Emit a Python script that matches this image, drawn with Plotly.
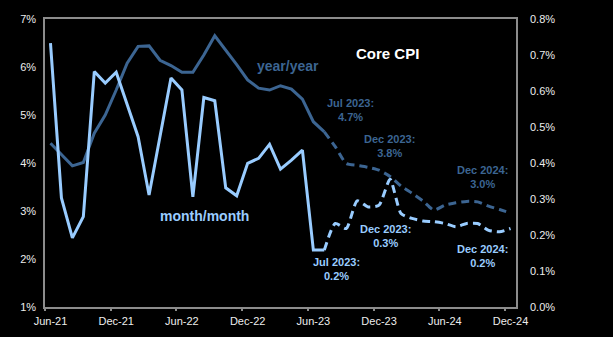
import plotly.graph_objects as go

# Monthly axis, Jun-21 through Dec-24
months = [
    "Jun-21", "Jul-21", "Aug-21", "Sep-21", "Oct-21", "Nov-21", "Dec-21",
    "Jan-22", "Feb-22", "Mar-22", "Apr-22", "May-22", "Jun-22", "Jul-22",
    "Aug-22", "Sep-22", "Oct-22", "Nov-22", "Dec-22", "Jan-23", "Feb-23",
    "Mar-23", "Apr-23", "May-23", "Jun-23", "Jul-23", "Aug-23", "Sep-23",
    "Oct-23", "Nov-23", "Dec-23", "Jan-24", "Feb-24", "Mar-24", "Apr-24",
    "May-24", "Jun-24", "Jul-24", "Aug-24", "Sep-24", "Oct-24", "Nov-24",
    "Dec-24",
]

# Core CPI, year/year (%), left axis
core_yoy = [
    4.41, 4.18, 3.94, 4.01, 4.62, 5.00, 5.52, 6.08, 6.43, 6.44, 6.14, 6.03,
    5.89, 5.89, 6.25, 6.65, 6.36, 6.05, 5.73, 5.56, 5.52, 5.61, 5.54, 5.33,
    4.86, 4.65, 4.34, 3.99, 3.95, 3.91, 3.85, 3.72, 3.52, 3.37, 3.21, 3.02,
    3.12, 3.17, 3.20, 3.19, 3.10, 3.03, 2.96,
]

# Core CPI, month/month (%), right axis
core_mom = [
    0.733, 0.303, 0.192, 0.251, 0.654, 0.622, 0.652, 0.563, 0.473, 0.311,
    0.473, 0.636, 0.603, 0.306, 0.582, 0.573, 0.331, 0.309, 0.399, 0.413,
    0.452, 0.383, 0.408, 0.436, 0.158, 0.158, 0.232, 0.218, 0.295, 0.278,
    0.283, 0.355, 0.260, 0.246, 0.239, 0.237, 0.232, 0.223, 0.232, 0.232,
    0.213, 0.209, 0.218,
]

last_actual = "Jul-23"
tick_labels = ["Jun-21", "Dec-21", "Jun-22", "Dec-22", "Jun-23", "Dec-23", "Jun-24", "Dec-24"]

YOY_COLOR = "#3C6592"
MOM_COLOR = "#99CCFF"
AXIS_COLOR = "#8C8C8C"
TEXT_COLOR = "#EDEDED"
FONT = "Liberation Sans, Arial, sans-serif"

idx = list(range(len(months)))
cut = months.index(last_actual)

fig = go.Figure()

# Actual history (solid) and projection (dashed) for each series
fig.add_trace(go.Scatter(
    x=idx[:cut + 1], y=core_yoy[:cut + 1], mode="lines",
    line=dict(color=YOY_COLOR, width=3), yaxis="y", showlegend=False,
))
fig.add_trace(go.Scatter(
    x=idx[cut:], y=core_yoy[cut:], mode="lines",
    line=dict(color=YOY_COLOR, width=3, dash="8px,5px", shape="spline", smoothing=0.6),
    yaxis="y", showlegend=False,
))
fig.add_trace(go.Scatter(
    x=idx[:cut + 1], y=core_mom[:cut + 1], mode="lines",
    line=dict(color=MOM_COLOR, width=3), yaxis="y2", showlegend=False,
))
fig.add_trace(go.Scatter(
    x=idx[cut:], y=core_mom[cut:], mode="lines",
    line=dict(color=MOM_COLOR, width=3, dash="8px,5px", shape="spline", smoothing=0.6),
    yaxis="y2", showlegend=False,
))

x_range = [-0.5, len(months) - 0.5]
label_pos = [months.index(m) for m in tick_labels]
boundary_pos = [p - 0.5 for p in label_pos]

fig.update_layout(
    width=613, height=337,
    margin=dict(l=45, r=97, t=19, b=30),
    paper_bgcolor="black", plot_bgcolor="black",
    font=dict(family=FONT, size=11, color=TEXT_COLOR),
    xaxis=dict(
        range=x_range, tickmode="array", tickvals=label_pos, ticktext=tick_labels,
        ticks="", showgrid=False, zeroline=False, automargin=False,
        showline=True, linecolor=AXIS_COLOR, linewidth=1.5, mirror=True,
        ticklabelstandoff=3,
        tickfont=dict(size=11, color=TEXT_COLOR),
    ),
    # boundary tick marks between month categories
    xaxis2=dict(
        range=x_range, overlaying="x", anchor="y", side="bottom",
        tickmode="array", tickvals=boundary_pos, ticks="outside", ticklen=3,
        tickcolor=AXIS_COLOR, tickwidth=1.5, showticklabels=False,
        showgrid=False, zeroline=False, showline=False, automargin=False,
    ),
    yaxis=dict(
        range=[1, 7], dtick=1, ticksuffix="%", ticks="", showgrid=False,
        zeroline=False, showline=True, linecolor=AXIS_COLOR, linewidth=1.5,
        mirror=True, ticklabelstandoff=5, automargin=False,
        tickfont=dict(size=11, color=TEXT_COLOR),
    ),
    yaxis2=dict(
        range=[0, 0.8], dtick=0.1, tickformat=".1f", ticksuffix="%",
        overlaying="y", side="right", ticks="", showgrid=False,
        zeroline=False, showline=False, ticklabelstandoff=13, automargin=False,
        tickfont=dict(size=11, color=TEXT_COLOR),
    ),
)

# invisible trace so the boundary-tick axis is drawn
fig.add_trace(go.Scatter(x=[idx[0]], y=[core_yoy[0]], xaxis="x2", yaxis="y",
                         mode="markers", marker=dict(opacity=0), showlegend=False,
                         hoverinfo="skip"))

def note(text, x, y, yref, color, size=11):
    fig.add_annotation(
        x=x, y=y, xref="x", yref=yref, text=text, showarrow=False,
        font=dict(family=FONT, size=size, color=color), align="center",
        xanchor="center", yanchor="middle",
    )

note("<b>Core CPI</b>", 30.8, 6.29, "y", "#FFFFFF", size=15)
note("<b>year/year</b>", 21.66, 6.02, "y", YOY_COLOR, size=14)
note("<b>month/month</b>", 14.05, 2.89, "y", MOM_COLOR, size=14)

note("<b>Jul 2023:<br>4.7%</b>", 27.39, 5.11, "y", YOY_COLOR)
note("<b>Dec 2023:<br>3.8%</b>", 30.91, 4.35, "y", YOY_COLOR)
note("<b>Dec 2024:<br>3.0%</b>", 39.44, 3.71, "y", YOY_COLOR)

note("<b>Jul 2023:<br>0.2%</b>", 26.11, 0.105, "y2", MOM_COLOR)
note("<b>Dec 2023:<br>0.3%</b>", 30.61, 0.197, "y2", MOM_COLOR)
note("<b>Dec 2024:<br>0.2%</b>", 39.44, 0.141, "y2", MOM_COLOR)

fig.write_html("out.html")
